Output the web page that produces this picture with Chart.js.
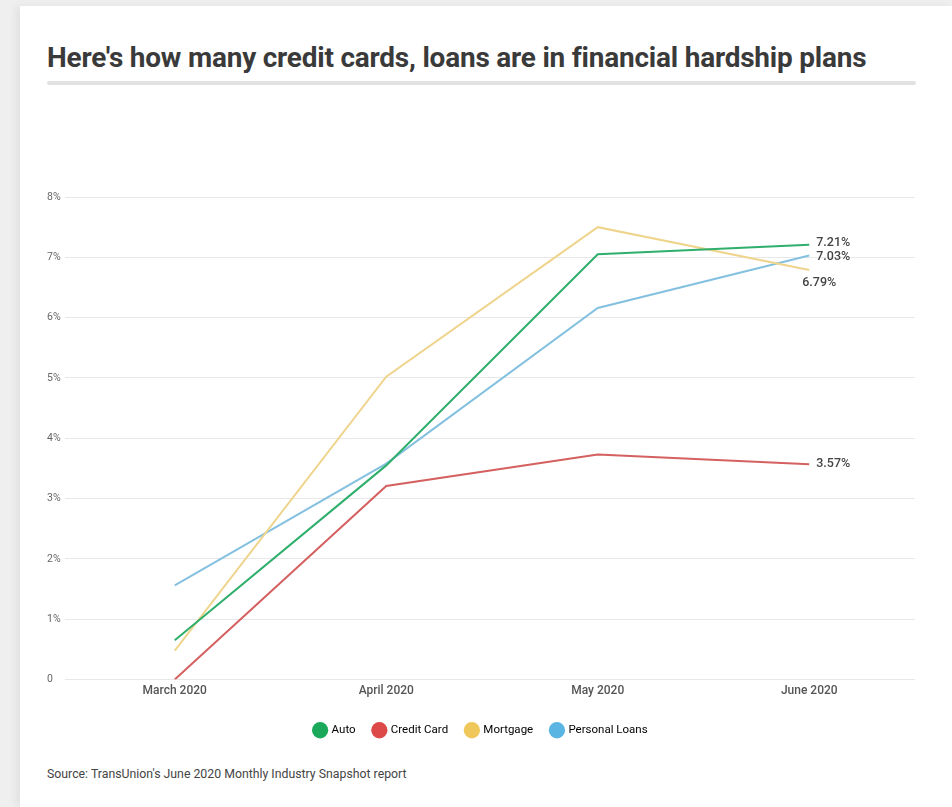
<!DOCTYPE html>
<html>
<head>
<meta charset="utf-8">
<script src="https://cdn.jsdelivr.net/npm/chart.js@4.4.1/dist/chart.umd.min.js"></script>
<style>
  html, body { margin: 0; padding: 0; }
  body {
    width: 952px; height: 807px; overflow: hidden; position: relative;
    background: #efefef; font-family: Roboto, "Noto Sans", sans-serif;
  }
  .card {
    position: absolute; left: 20px; top: 6px; right: 0; bottom: 0;
    background: #fff; box-shadow: -4px 0 8px rgba(0,0,0,0.06);
  }
  .title {
    position: absolute; left: 47px; top: 41px; margin: 0;
    font-size: 28px; font-weight: 700; color: #3a3a3a;
    white-space: nowrap; transform-origin: 0 0; letter-spacing: -0.2px;
  }
  .rule {
    position: absolute; left: 47px; top: 81px; width: 869px; height: 4px;
    background: #e2e2e2; border-radius: 2px;
  }
  .chart-box {
    position: absolute; left: 40px; top: 170px; width: 880px; height: 580px;
  }
  .source {
    position: absolute; left: 47px; top: 767px;
    font-size: 12.3px; color: #444; white-space: nowrap;
  }
</style>
</head>
<body>
<div class="card"></div>
<h1 class="title" id="title">Here's how many credit cards, loans are in financial hardship plans</h1>
<div class="rule"></div>
<div class="chart-box"><canvas id="hardship-chart"></canvas></div>
<div class="source">Source: TransUnion's June 2020 Monthly Industry Snapshot report</div>

<script>
  // Valeurs (%)
  const months = ["March 2020", "April 2020", "May 2020", "June 2020"];
  const autoValues = [0.65, 3.55, 7.05, 7.21];
  const creditCardValues = [0.0, 3.21, 3.73, 3.57];
  const mortgageValues = [0.48, 5.02, 7.5, 6.79];
  const personalLoanValues = [1.56, 3.58, 6.16, 7.03];
  const yTickLabels = ["0", "1%", "2%", "3%", "4%", "5%", "6%", "7%", "8%"];

  // squeeze the title to the width it has in the reference
  const titleEl = document.getElementById("title");
  const titleWidth = titleEl.scrollWidth;
  titleEl.style.transform = `scaleX(${819 / titleWidth})`;

  const series = [
    { label: "Auto", data: autoValues, line: "#2fae6c", dot: "#1aa85a", dx: 7, dy: -2 },
    { label: "Credit Card", data: creditCardValues, line: "#d46060", dot: "#dd4848", dx: 7, dy: 0 },
    { label: "Mortgage", data: mortgageValues, line: "#eed48c", dot: "#f0c75a", dx: -7, dy: 13 },
    { label: "Personal Loans", data: personalLoanValues, line: "#84c0e0", dot: "#5ab5e3", dx: 7, dy: 1 },
  ];

  const endLabels = {
    id: "endLabels",
    afterDatasetsDraw(chart) {
      const ctx = chart.ctx;
      ctx.save();
      ctx.font = "500 12.5px Roboto, sans-serif";
      ctx.fillStyle = "#444";
      ctx.textBaseline = "middle";
      ctx.textAlign = "left";
      chart.data.datasets.forEach((ds, i) => {
        const meta = chart.getDatasetMeta(i);
        const pt = meta.data[meta.data.length - 1];
        const value = ds.data[ds.data.length - 1];
        const s = series[i];
        ctx.fillText(`${value.toFixed(2)}%`, pt.x + s.dx, pt.y + s.dy);
      });
      ctx.restore();
    },
  };

  new Chart(document.getElementById("hardship-chart"), {
    type: "line",
    data: {
      labels: months,
      datasets: series.map((s) => ({
        label: s.label,
        data: s.data,
        borderColor: s.line,
        backgroundColor: s.dot,
        borderWidth: 2,
        pointRadius: 0,
        tension: 0,
      })),
    },
    options: {
      responsive: true,
      maintainAspectRatio: false,
      animation: false,
      layout: { padding: { left: 7, right: 5, top: 27, bottom: 4 } },
      plugins: {
        tooltip: { enabled: false },
        legend: {
          position: "bottom",
          labels: {
            usePointStyle: true,
            pointStyle: "circle",
            boxWidth: 12,
            boxHeight: 12,
            padding: 18,
            color: "#444",
            font: { family: "Roboto", size: 11.5 },
            generateLabels(chart) {
              return chart.data.datasets.map((ds, i) => ({
                text: ds.label,
                fillStyle: ds.backgroundColor,
                strokeStyle: ds.backgroundColor,
                lineWidth: 0,
                pointStyle: "circle",
                datasetIndex: i,
                hidden: false,
              }));
            },
          },
        },
      },
      scales: {
        x: {
          offset: true,
          grid: { display: false, drawTicks: false },
          border: { display: false },
          ticks: {
            padding: 4,
            color: "#555",
            font: { family: "Roboto", size: 12, weight: "500" },
          },
          afterFit(scale) { scale.height = 27; },
        },
        y: {
          min: 0,
          max: 8,
          grid: { color: "#e8e8e8", lineWidth: 1, tickLength: 4, drawTicks: true, tickColor: "#e8e8e8" },
          border: { display: false },
          ticks: {
            stepSize: 1,
            crossAlign: "far",
            padding: 4,
            color: "#666",
            font: { family: "Roboto", size: 10.5 },
            callback: (v) => yTickLabels[v],
          },
          afterFit(scale) { scale.width = 22; },
        },
      },
    },
    plugins: [endLabels],
  });
</script>
</body>
</html>
